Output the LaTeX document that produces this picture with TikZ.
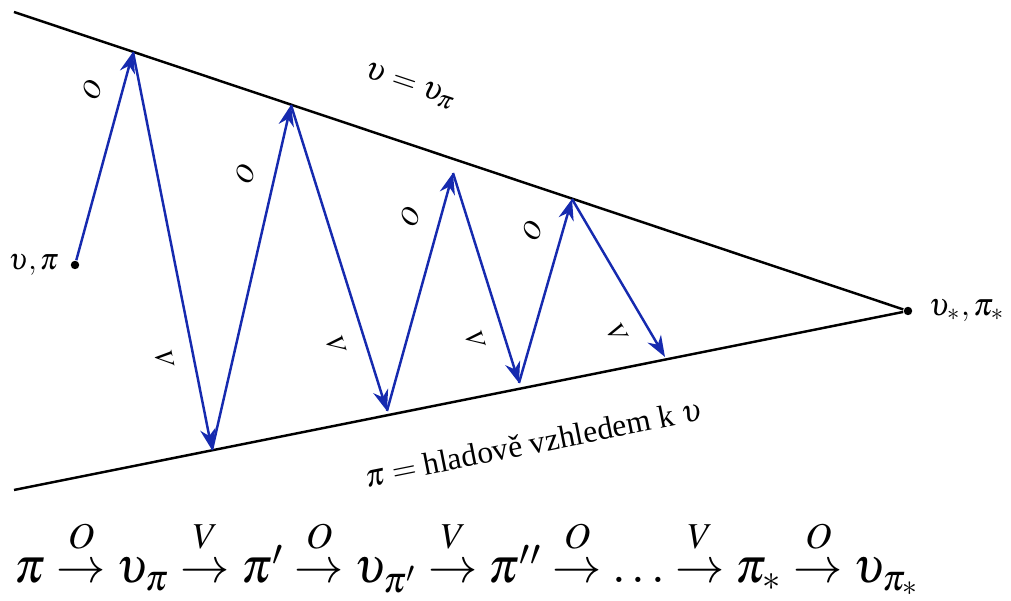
\documentclass[tikz,border=0pt]{standalone}
\usepackage{mathptmx}
\usepackage{fontspec}
\setmainfont{Liberation Serif}
\usetikzlibrary{positioning,arrows.meta,calc}
\definecolor{modra}{RGB}{22,42,175}
\newcommand{\sipka}[1]{\mathrel{\stackrel{\raisebox{2pt}{$\scriptstyle #1$}}{\rightarrow}}}

\begin{document}
\begin{tikzpicture}[
    x=0.01cm, y=-0.01cm,
    every node/.style={font=\fontsize{9}{11}\selectfont},
    hrana/.style={line width=0.7pt, black},
    krok/.style={line width=0.7pt, draw=modra,
                 -{Stealth[length=6pt,width=4.4pt]}},
    popisO/.style={font=\fontsize{7.5}{9}\selectfont, sloped, inner sep=1pt,
                  pos=0.78, above=4.5pt},
    popisV/.style={font=\fontsize{7.5}{9}\selectfont, sloped, inner sep=1pt,
                  pos=0.76, below=4.5pt},
    bod/.style={circle, fill=black, inner sep=0pt, minimum size=2.4pt}
  ]
    \useasboundingbox (0,0) rectangle (1011,601);

    % Hranice: horni a dolni primka, sbihaji se v bode S
    \coordinate (L) at (14,12);
    \coordinate (D) at (14,490);
    \node[bod] (S) at (908,311) {};
    \node[right=1pt of S] (Slbl) {$\upsilon_*, \pi_*$};
    \draw[hrana] (L) -- (S)
        node[pos=0.426, sloped, above=9pt] (hornilbl) {$\upsilon = \upsilon_\pi$};
    \draw[hrana] (D) -- (S)
        node[pos=0.572, sloped, below=9pt] (dolnilbl) {$\pi =$ hladově vzhledem k $\upsilon$};

    % Start a body na primkach
    \node[bod] (start) at (75,265) {};
    \node[left=1pt of start, inner sep=2pt, font=\fontsize{8.5}{10}\selectfont]
        (startlbl) {$\upsilon, \pi$};
    \coordinate (h1) at (133,52);
    \coordinate (d1) at (212,450);
    \coordinate (h2) at (291,105);
    \coordinate (d2) at (387,411);
    \coordinate (h3) at (453,173);
    \coordinate (d3) at (519,383);
    \coordinate (h4) at (572,199);
    \coordinate (d4) at (665,357);

    % Cik-cak: O nahoru, V dolu
    \draw[krok] (start) -- (h1) node[popisO] (o1) {$O$};
    \draw[krok] (h1) -- (d1) node[popisV] (v1) {$V$};
    \draw[krok] (d1) -- (h2) node[popisO] (o2) {$O$};
    \draw[krok] (h2) -- (d2) node[popisV] (v2) {$V$};
    \draw[krok] (d2) -- (h3) node[popisO] (o3) {$O$};
    \draw[krok] (h3) -- (d3) node[popisV] (v3) {$V$};
    \draw[krok] (d3) -- (h4) node[popisO] (o4) {$O$};
    \draw[krok] (h4) -- (d4) node[popisV] (v4) {$V$};

    % Posloupnost pod obrazkem
    \node[anchor=base west, inner sep=0pt, font=\fontsize{14}{17}\selectfont]
        (rada) at (14,583)
        {$\pi \sipka{O} \upsilon_\pi \sipka{V} \pi' \sipka{O} \upsilon_{\pi'}
          \sipka{V} \pi'' \sipka{O} \ldots \sipka{V} \pi_* \sipka{O} \upsilon_{\pi_*}$};
  \end{tikzpicture}
\end{document}
